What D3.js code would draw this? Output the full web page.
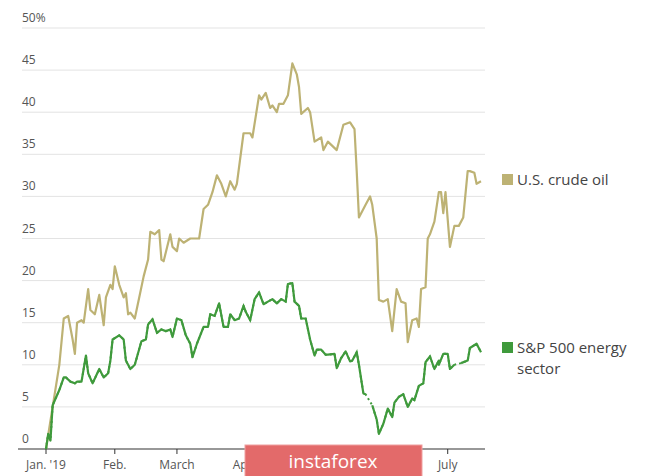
<!DOCTYPE html>
<html><head><meta charset="utf-8">
<script src="https://cdn.jsdelivr.net/npm/d3@7"></script>
<style>body{margin:0;background:#fff;font-family:"Open Sans",sans-serif;}</style>
</head><body><div id="box"></div>
<script>
'use strict';
// [day of 2019, % change]
var crude = [[0,0],[3,5],[6,10],[8,15.5],[10,15.8],[12,13],[13,11.3],[14,15],[16,15.3],[17,15],[19,19],[20,16.5],[22,16],[24,18.3],[26,14.7],[27,18],[29,19.5],[30,19],[31,21.7],[33,19.5],[35,18],[36,18.5],[37,16],[38.5,16.2],[40,15.5],[42,18],[44,20.5],[46,22.5],
 [47.7,25.8],[49,25.5],[51,26],[52,22.5],[53.6,22.3],[56,25.5],[57,24],[59.5,23.5],[60.4,25],[62.6,24.5],[65,25],[69.4,25],[71.2,28.5],[73,29],[75.2,30.5],[77.5,32.5],[79.3,31.5],[81.5,30],[83,31.8],[85,30.8],[86.5,31.5],[89.6,37.5],[92,37.5],[93.7,37],[96.4,42],[97.7,41.5],[99.5,42.3],[101,40.5],[102.3,40.8],[104,40],[105.4,41],[107.7,41],[109,42],[111.3,45.8],[113,44.5],[114.4,43],[115.8,39.8],[118,40.5],[119.8,40],[121.6,36.5],[124.3,37],[125.7,35.5],[127,36.5],
 [129.3,36],[131.5,35.5],[134.7,38.5],[137.8,38.8],[139.2,38],[140.5,33],[141.9,27.5],[144.1,29],[146.4,30],[147.7,29],[149,25],[150.2,17.7],[152.2,17.5],[154.1,17.8],[156,14],[158.8,19],[160.8,17.5],[162.3,17.3],[163.6,12.7],[165.5,15.3],[167.4,15.5],[168.4,14.5],[169.7,19],[171.3,19.2],[172.2,25],
 [173,25.5],[175.2,27],[177.5,30.5],[178.8,30.5],[179.7,28],[180.6,30.5],[182.9,24],[184.2,26.5],[186.5,26.5],[188.7,27.5],[190,33],[191.9,33],[193.7,32.8],[194.6,31.5],[196,31.8]];
var energy = [[0,0],[1.3,1.8],[2.6,1],[3.8,5.2],[6,7],[8,8.5],[9.9,8.5],[11.8,8],[13.3,7.8],[14.6,8],[16.5,8],[18.5,11.1],[19.8,9],[21.7,7.8],[24.4,9.5],[26.3,8.5],[28,9],[29.3,10.5],[30.9,13],[33.2,13.5],[35.1,13],[36.6,10.5],[38.5,9.5],[40.4,10],[43.3,12.8],[45.2,13],[46.5,14.8],[48.4,15.4],[50.4,13.8],[52.3,14.2],[54.2,14],[56.1,14.2],[57.6,13.3],[59.5,15.5],[61.4,15.3],[63.3,13.5],[65.3,12.5],[66.4,10.9],[68.3,12.5],[71,14.5],[73.3,14.5],[74.8,16],[76.3,15.8],[78.6,17.3],[80.5,14.5],[82.4,14.5],[83.6,16],[85.3,15.3],[87.2,15.5],[89.1,17],[90.5,16.3],[92.4,15.3],[94.9,17.8],[96.2,18.6],[98.1,17.2],[100,17.5],[102.5,17.8],[104.4,17.3],[106.3,17.8],[108.2,17.5],[109.6,19.6],[111.1,19.7],[112.2,17.5],[114,17],[115.9,15.5],[117.8,15.5],[119.3,13],[121,11.1],[122.6,11.8],[124.5,11.8],[126,11.2],[127.9,11.2],[130.2,11.3],[131.3,9.6],[133.2,10.8],[135.9,11.6],[137.4,10.4],[138.8,10.5],[140.1,11.5],[141.7,10],[143.2,6.6],[144.5,6.5],[145.5,null],[147.4,5.2],[149.3,3.5],[150.6,1.8],[152.2,3],[154.1,4.8],[156,3.8],[157.9,5.5],[159.8,6.2],[161.7,6.5],[163.2,5],[165,6],[166.5,5.8],[168.4,7.5],[170.3,7.8],[171.8,10.3],[173.7,11],[175.1,9.5],[177,10.5],[177.9,10],[179.5,11.3],[181.4,11.3],[182.7,9.5],[184.6,10],[185.5,null],[187.5,10.2],[190.4,10.5],[191.7,12],[194.2,12.5],[196.1,11.5]];

function day(d) { return new Date(2019, 0, 1 + d); }

var svg = d3.select("#box").append("svg").attr("width", 665).attr("height", 476);
var x = d3.scaleTime().domain([day(0), day(196)]).range([46, 481]);
var y = d3.scaleLinear().domain([0, 50]).range([449, 28]);

// gridlines and labels
var ticks = d3.range(0, 55, 5);
svg.selectAll(".grid").data(ticks.slice(1)).enter().append("line")
  .attr("x1", 22).attr("x2", 485)
  .attr("y1", function(d) { return y(d); }).attr("y2", function(d) { return y(d); })
  .attr("stroke", "#e3e3e3").attr("stroke-width", 1);
svg.selectAll(".ylab").data(ticks).enter().append("text")
  .attr("x", 22).attr("y", function(d) { return y(d) - 6; })
  .style("font-size", "12px").style("fill", "#555")
  .text(function(d) { return d == 50 ? "50%" : d; });

// x axis (May/June labels sit under the watermark, so only ticks)
svg.append("line").attr("x1", 18).attr("x2", 485).attr("y1", 449).attr("y2", 449)
  .attr("stroke", "#333").attr("stroke-width", 1.2);
var months = [[0, "Jan. '19"], [31, "Feb."], [59, "March"], [90, "April"], [120, ""], [151, ""], [181, "July"]];
svg.selectAll(".xt").data(months).enter().append("line")
  .attr("x1", function(d) { return x(day(d[0])); }).attr("x2", function(d) { return x(day(d[0])); })
  .attr("y1", 449).attr("y2", 454).attr("stroke", "#333");
svg.selectAll(".xl").data(months.filter(function(d) { return d[1]; })).enter().append("text")
  .attr("x", function(d) { return x(day(d[0])); }).attr("y", 469)
  .style("text-anchor", "middle").style("font-size", "12px").style("fill", "#555")
  .text(function(d) { return d[1]; });

var line = d3.line().defined(function(d) { return d[1] !== null; })
  .x(function(d) { return x(day(d[0])); }).y(function(d) { return y(d[1]); });

svg.append("path").datum(crude).attr("fill", "none").attr("stroke", "#bdb274")
  .attr("stroke-width", 2.2).attr("stroke-linejoin", "round").attr("d", line);
// dotted connector through the gaps
svg.append("path").datum(energy.filter(function(d) { return d[1] !== null; }))
  .attr("fill", "none").attr("stroke", "#3f9a3c").attr("stroke-width", 2)
  .attr("stroke-dasharray", "2,3").attr("d", line);
svg.append("path").datum(energy).attr("fill", "none").attr("stroke", "#3f9a3c")
  .attr("stroke-width", 2.2).attr("stroke-linejoin", "round").attr("d", line);

// legend
var legend = [["#bdb274", ["U.S. crude oil"], 180], ["#3f9a3c", ["S&P 500 energy", "sector"], 348]];
legend.forEach(function(l) {
  svg.append("rect").attr("x", 502).attr("y", l[2] - 6).attr("width", 11).attr("height", 11).attr("fill", l[0]);
  l[1].forEach(function(t, i) {
    svg.append("text").attr("x", 517).attr("y", l[2] + 5 + i * 21)
      .style("font-size", "15px").style("fill", "#444").text(t);
  });
});

// watermark
svg.append("rect").attr("x", 245).attr("y", 445).attr("width", 177).attr("height", 32)
  .attr("fill", "#e36a6a").attr("stroke", "#f0a0a0");
svg.append("text").attr("x", 333).attr("y", 468).style("text-anchor", "middle")
  .style("font-size", "19px").style("fill", "#fff").text("instaforex");
</script>
</body></html>
